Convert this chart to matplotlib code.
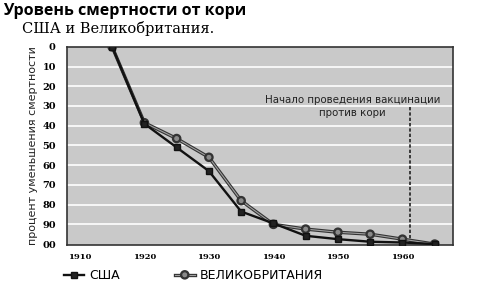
import matplotlib
matplotlib.use("Agg")
import matplotlib.pyplot as plt
import matplotlib.patheffects as pe

# data
years = [1915, 1920, 1925, 1930, 1935, 1940, 1945, 1950, 1955, 1960, 1965]
usa = [0, 39, 51, 63, 83.5, 89.5, 95.8, 97.5, 98.8, 99.2, 100]
uk = [0, 38.5, 46.5, 56, 78, 90, 92.4, 94, 95, 97.5, 100]
x_ticks = [1910, 1920, 1930, 1940, 1950, 1960]
y_ticks = [0, 10, 20, 30, 40, 50, 60, 70, 80, 90, 100]
y_labels = ["0", "10", "20", "30", "40", "50", "60", "70", "80", "90", "00"]
vacc_year = 1961.2

fig = plt.figure(figsize=(5.01, 2.89), dpi=100)
ax = fig.add_axes([0.1337, 0.152, 0.77, 0.686])
ax.set_facecolor("#c9c9c9")

for y in y_ticks[1:-1]:
  ax.axhline(y, color="white", lw=1.2, zorder=1)

ax.plot(years, uk, color="#a0a0a0", lw=0.8, marker="o", ms=4.5,
        mfc="#8a8a8a", mec="#333333", mew=0.9, zorder=3,
        path_effects=[pe.Stroke(linewidth=2.4, foreground="#333333"), pe.Normal()],
        label="ВЕЛИКОБРИТАНИЯ")
ax.plot(years, usa, color="#111111", lw=1.7, marker="s", ms=4.5,
        mfc="#222222", mec="#111111", zorder=4, label="США")

ax.plot([vacc_year, vacc_year], [30.5, 100], color="#222222", lw=1.2,
        ls=(0, (2, 1.2)), zorder=2)
ax.text(1952.3, 30.3, "Начало проведения вакцинации\nпротив кори", ha="center",
        va="center", fontsize=7.4, color="#222222", linespacing=1.3,
        family="DejaVu Sans", zorder=5)

ax.set_xlim(1908.0, 1967.8)
ax.set_ylim(100.5, 0)
ax.set_xticks(x_ticks)
ax.set_xticklabels([str(v) for v in x_ticks], fontsize=6, fontweight="bold",
                   family="DejaVu Serif")
ax.set_yticks(y_ticks)
ax.set_yticklabels(y_labels, fontsize=7, fontweight="bold", family="DejaVu Serif")
ax.tick_params(length=0)
ax.tick_params(axis="y", pad=8)
ax.tick_params(axis="x", pad=6)
for s in ax.spines.values():
  s.set_color("#333333")
  s.set_linewidth(1.2)

ax.set_ylabel("процент уменьшения смертности", fontsize=8, family="DejaVu Sans",
              color="#222222", labelpad=3)

fig.text(0.006, 0.962, "Уровень смертности от кори", fontsize=11.5,
         fontweight="bold", family="Open Sans", va="center", ha="left")
fig.text(0.044, 0.9, "США и Великобритания.", fontsize=10.5,
         family="DejaVu Serif", va="center", ha="left")

handles, labels = ax.get_legend_handles_labels()
fig.legend(handles[::-1], labels[::-1], loc="center left", bbox_to_anchor=(0.128, 0.046),
           ncol=2, frameon=False, handlelength=1.6, handletextpad=0.4,
           columnspacing=4.4, borderaxespad=0, borderpad=0,
           prop={"family": "DejaVu Sans", "size": 9})

fig.savefig("out.png", dpi=100, facecolor="white")
